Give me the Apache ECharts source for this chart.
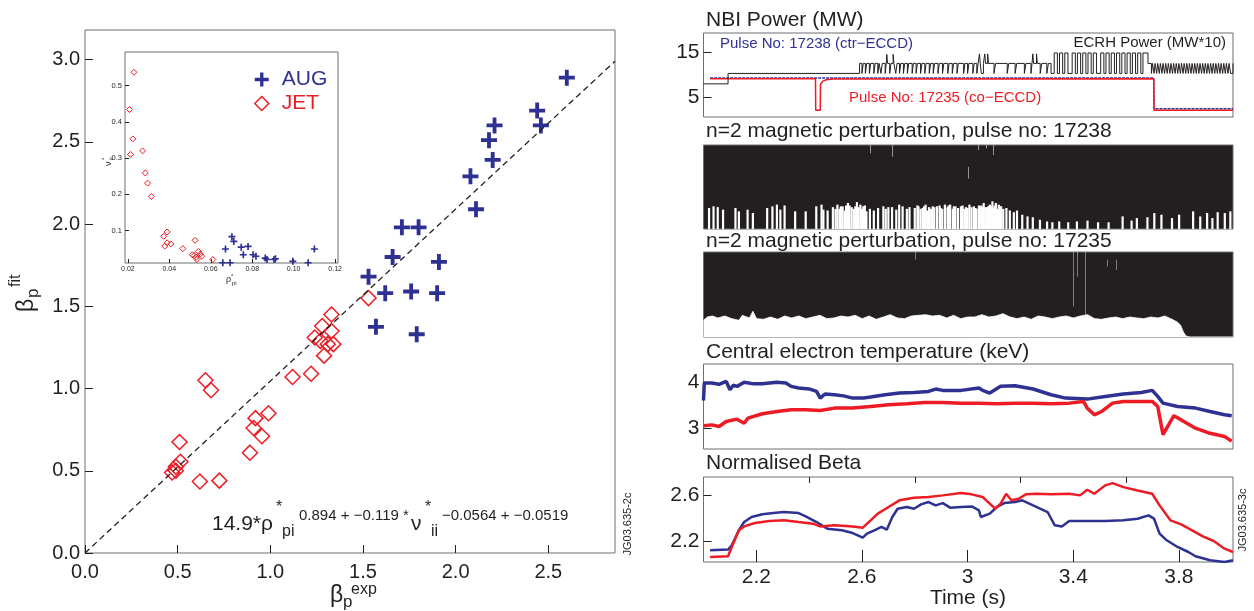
<!DOCTYPE html>
<html>
<head>
<meta charset="utf-8">
<script src="https://cdn.jsdelivr.net/npm/echarts@6/dist/echarts.min.js"></script>
<style>html,body{margin:0;padding:0;background:#fff}#chart{width:1254px;height:611px}</style>
</head>
<body>
<div id="chart"></div>
<script>
var FONT = '"Liberation Sans", Arial, sans-serif';
var BLUE = '#2e3192', RED = '#ed1c24', INK = '#231f20', FRAME = '#6d6e71';
var PLUS = 'path://M3.8,0h2.4v3.8h3.8v2.4h-3.8v3.8h-2.4v-3.8h-3.8v-2.4h3.8z';

// ---- left: fitted vs experimental beta_p ----
var augPoints = [[2.60,2.89],[2.44,2.69],[2.46,2.60],[2.21,2.60],[2.18,2.51],[2.20,2.39],[2.08,2.29],[2.11,2.09],
  [1.71,1.98],[1.80,1.98],[1.66,1.80],[1.91,1.77],[1.53,1.68],[1.62,1.58],[1.76,1.59],[1.90,1.58],[1.57,1.375],[1.79,1.33]];
var jetPoints = [[1.53,1.55],[1.33,1.45],[1.28,1.38],[1.33,1.35],[1.24,1.31],[1.27,1.29],[1.31,1.27],[1.34,1.27],[1.29,1.20],
  [1.12,1.07],[1.22,1.09],[0.65,1.05],[0.68,0.99],[0.99,0.85],[0.92,0.82],[0.91,0.76],[0.955,0.71],[0.89,0.61],
  [0.51,0.675],[0.515,0.555],[0.49,0.525],[0.47,0.49],[0.49,0.50],[0.62,0.435],[0.725,0.44]];
var fitLine = [[0, 0], [2.86, 2.99]];
var mainTicks = [0, 0.5, 1, 1.5, 2, 2.5, 3];

// inset: nu*_ii vs rho*_pi
var insetJet = [[0.0229,0.537],[0.0208,0.434],[0.0224,0.353],[0.0213,0.310],[0.0271,0.320],[0.0284,0.259],[0.0295,0.231],
  [0.0313,0.194],[0.0389,0.096],[0.0373,0.084],[0.0378,0.057],[0.0389,0.066],[0.0407,0.063],[0.0465,0.050],[0.0524,0.073],
  [0.0511,0.033],[0.0530,0.026],[0.0540,0.042],[0.0550,0.035],[0.0520,0.031],[0.0533,0.020],[0.0556,0.029],[0.0610,0.020]];
var insetAug = [[0.0702,0.083],[0.0711,0.070],[0.0671,0.049],[0.0747,0.054],[0.0780,0.056],[0.0757,0.033],[0.0804,0.033],
  [0.0818,0.029],[0.0863,0.024],[0.0871,0.020],[0.0905,0.020],[0.0912,0.022],[0.0996,0.015],[0.1070,0.011],[0.1100,0.049],
  [0.0658,0.011],[0.0693,0.011]];
var insetXTicks = [0.02, 0.04, 0.06, 0.08, 0.10, 0.12];
var insetYTicks = [0.1, 0.2, 0.3, 0.4, 0.5];

// ---- right: time traces ----
var timeTicks = [2.2, 2.6, 3, 3.4, 3.8];
var timeMinorTicks = [2.4, 2.8, 3.2, 3.6];

var nbi17238 = [[2.025,9.3],[3.705,9.3],[3.706,2.5],[4.005,2.5]];
var nbi17235 = [[2.025,9.1],[2.424,9.1],[2.425,2.2],[2.442,2.2],[2.443,7.9],[2.452,8.6],[2.465,8.9],[2.49,9.05],
  [3.705,9.1],[3.706,2.2],[4.005,2.2]];
var ecrhPower = [[2.000,8.0],[2.093,10.3],[2.591,12.5],
  [2.600,10.3],[2.605,12.5],[2.613,10.3],[2.618,12.5],[2.628,10.3],[2.633,12.5],[2.645,10.3],[2.650,12.5],
  [2.660,10.3],[2.665,12.5],[2.672,10.3],[2.677,12.5],[2.688,10.3],[2.692,12.5],[2.694,14.5],[2.697,12.5],
  [2.705,10.3],[2.710,12.5],[2.718,14.5],[2.721,12.5],[2.728,10.3],[2.733,12.5],[2.742,10.3],[2.747,12.5],
  [2.757,10.3],[2.762,12.5],[2.772,10.3],[2.777,12.5],[2.790,10.3],[2.795,12.5],[2.805,10.3],[2.810,12.5],
  [2.822,10.3],[2.827,12.5],[2.838,10.3],[2.843,12.5],[2.855,10.3],[2.860,12.5],[2.870,10.3],[2.875,12.5],
  [2.888,10.3],[2.893,12.5],[2.905,10.3],[2.910,12.5],[2.925,10.3],[2.930,12.5],[2.942,10.3],[2.947,12.5],
  [2.960,10.3],[2.965,12.5],[2.985,10.3],[2.990,12.5],[3.000,10.3],[3.005,12.5],[3.020,10.3],[3.025,12.5],
  [3.035,10.3],[3.040,12.5],[3.045,14.6],[3.048,12.5],[3.052,10.3],[3.060,12.5],[3.065,14.6],[3.068,12.5],
  [3.076,14.6],[3.079,12.5],[3.100,10.3],[3.106,12.5],[3.150,10.3],[3.156,12.5],[3.180,10.3],[3.186,12.5],
  [3.215,10.3],[3.221,12.5],[3.240,10.3],[3.244,12.5],[3.247,14.6],[3.250,12.5],[3.261,14.6],[3.264,12.5],
  [3.275,10.3],[3.281,12.5],[3.300,10.3],[3.306,12.5],[3.316,10.3],
  [3.328,14.8],[3.340,10.3],[3.348,14.8],[3.360,10.3],[3.368,14.8],[3.380,10.3],[3.396,14.8],[3.408,10.3],
  [3.416,14.8],[3.428,10.3],[3.436,14.8],[3.448,10.3],[3.456,14.8],[3.468,10.3],[3.476,14.8],[3.488,10.3],
  [3.504,14.8],[3.516,10.3],[3.524,14.8],[3.536,10.3],[3.544,14.8],[3.556,10.3],[3.564,14.8],[3.576,10.3],
  [3.584,14.8],[3.596,10.3],[3.604,14.8],[3.616,10.3],[3.624,14.8],[3.636,10.3],[3.644,14.8],[3.656,10.3],
  [3.664,14.8],[3.683,12.5],
  [3.696,10.3],[3.700,12.5],[3.706,10.3],[3.710,12.5],[3.716,10.3],[3.720,12.5],[3.726,10.3],[3.730,12.5],
  [3.736,10.3],[3.740,12.5],[3.746,10.3],[3.750,12.5],[3.756,10.3],[3.760,12.5],[3.766,10.3],[3.770,12.5],
  [3.776,10.3],[3.780,12.5],[3.786,10.3],[3.790,12.5],[3.796,10.3],[3.800,12.5],[3.806,10.3],[3.810,12.5],
  [3.816,10.3],[3.820,12.5],[3.826,10.3],[3.830,12.5],[3.836,10.3],[3.840,12.5],[3.846,10.3],[3.850,12.5],
  [3.856,10.3],[3.860,12.5],[3.866,10.3],[3.870,12.5],[3.876,10.3],[3.880,12.5],[3.886,10.3],[3.890,12.5],
  [3.896,10.3],[3.900,12.5],[3.906,10.3],[3.910,12.5],[3.916,10.3],[3.920,12.5],[3.926,10.3],[3.930,12.5],
  [3.936,10.3],[3.940,12.5],[3.946,10.3],[3.950,12.5],[3.956,10.3],[3.960,12.5],[3.966,10.3],[3.970,12.5],
  [3.976,10.3],[3.980,12.5],[3.986,10.3],[3.990,12.5],[3.996,10.3],[4.005,12.5]];

// n=2 perturbation, 17238: white gaps rising from the bottom of the black band (time, fraction of panel)
var mag17238Gaps = [[2.021,0.25],[2.038,0.27],[2.054,0.26],[2.074,0.23],[2.121,0.25],[2.134,0.21],[2.167,0.23],[2.187,0.19],
  [2.241,0.25],[2.261,0.27],[2.278,0.29],[2.291,0.23],[2.307,0.28],[2.347,0.21],[2.387,0.21],[2.427,0.27],[2.447,0.29],
  [2.454,0.23],[2.470,0.22],[2.490,0.26],[2.500,0.24],[2.507,0.29],[2.515,0.24],[2.520,0.27],[2.527,0.27],[2.535,0.22],
  [2.540,0.28],[2.547,0.31],[2.553,0.28],[2.561,0.26],[2.569,0.24],[2.575,0.27],[2.581,0.32],[2.587,0.26],[2.594,0.29],
  [2.600,0.24],[2.605,0.27],[2.611,0.28],[2.617,0.21],[2.630,0.24],[2.645,0.22],[2.661,0.25],[2.681,0.27],[2.690,0.24],
  [2.700,0.26],[2.714,0.26],[2.730,0.23],[2.741,0.29],[2.754,0.27],[2.770,0.24],[2.780,0.26],[2.800,0.25],[2.810,0.28],
  [2.814,0.27],[2.822,0.24],[2.830,0.25],[2.835,0.27],[2.841,0.29],[2.847,0.22],[2.854,0.26],[2.862,0.24],[2.868,0.27],
  [2.874,0.26],[2.884,0.27],[2.894,0.28],[2.898,0.25],[2.904,0.24],[2.914,0.29],[2.924,0.26],[2.928,0.28],[2.934,0.29],
  [2.944,0.24],[2.948,0.27],[2.954,0.27],[2.964,0.25],[2.975,0.27],[2.981,0.28],[2.988,0.24],[2.994,0.26],[3.000,0.25],
  [3.007,0.29],[3.015,0.26],[3.024,0.27],[3.030,0.25],[3.034,0.24],[3.043,0.28],[3.046,0.27],[3.052,0.28],[3.058,0.26],
  [3.061,0.31],[3.067,0.26],[3.074,0.26],[3.078,0.27],[3.084,0.29],[3.090,0.27],[3.094,0.33],[3.100,0.26],[3.104,0.28],
  [3.107,0.31],[3.112,0.24],[3.118,0.29],[3.122,0.27],[3.127,0.27],[3.135,0.24],[3.147,0.25],[3.160,0.22],[3.175,0.20],
  [3.187,0.22],[3.207,0.17],[3.227,0.15],[3.247,0.14],[3.274,0.11],[3.301,0.09],[3.321,0.08],[3.347,0.09],[3.381,0.08],
  [3.414,0.09],[3.454,0.10],[3.494,0.08],[3.534,0.08],[3.587,0.15],[3.621,0.10],[3.641,0.13],[3.681,0.14],[3.707,0.19],
  [3.734,0.17],[3.774,0.13],[3.801,0.17],[3.854,0.21],[3.881,0.15],[3.907,0.19],[3.927,0.13],[3.947,0.20],[3.974,0.19],
  [3.995,0.21]];
var mag17238Streaks = [[2.632,1.0,0.90],[2.714,1.0,0.86],[3.004,0.74,0.60],[3.042,1.0,0.94],[3.072,1.0,0.96],[3.097,1.0,0.88]];

// n=2 perturbation, 17235: top of the white region under the black band
var mag17235Floor = [[2.000,0.196],[2.014,0.235],[2.034,0.247],[2.054,0.224],[2.081,0.247],[2.107,0.216],[2.134,0.196],
  [2.147,0.255],[2.174,0.224],[2.187,0.302],[2.201,0.216],[2.227,0.208],[2.254,0.235],[2.281,0.208],[2.307,0.247],
  [2.334,0.224],[2.361,0.247],[2.387,0.216],[2.414,0.235],[2.441,0.255],[2.467,0.216],[2.494,0.224],[2.521,0.247],
  [2.547,0.235],[2.574,0.255],[2.601,0.216],[2.627,0.247],[2.654,0.208],[2.681,0.235],[2.707,0.263],[2.734,0.224],
  [2.761,0.216],[2.787,0.247],[2.814,0.255],[2.841,0.263],[2.867,0.247],[2.894,0.255],[2.921,0.224],[2.947,0.255],
  [2.974,0.216],[3.001,0.235],[3.027,0.235],[3.054,0.263],[3.081,0.235],[3.107,0.247],[3.134,0.275],[3.161,0.235],
  [3.187,0.216],[3.214,0.235],[3.241,0.208],[3.267,0.247],[3.294,0.235],[3.321,0.216],[3.347,0.235],[3.374,0.247],
  [3.401,0.224],[3.427,0.247],[3.454,0.263],[3.481,0.216],[3.507,0.208],[3.534,0.224],[3.561,0.235],[3.587,0.216],
  [3.614,0.235],[3.641,0.224],[3.667,0.216],[3.694,0.235],[3.721,0.224],[3.747,0.247],[3.774,0.208],[3.794,0.176],
  [3.807,0.137],[3.817,0.059],[3.827,0.012],[3.841,0],[4.005,0]];
var mag17235Spikes = [2.011,2.147,2.171,2.265,2.387,2.547,2.651,2.734,2.821,2.841,2.921,3.001,3.081,3.187,3.267,
  3.301,3.347,3.374,3.441,3.461,3.554,3.681,3.747,3.754];
var mag17235Streaks = [[2.80,1.0,0.91],[3.40,1.0,0.36],[3.414,1.0,0.71],[3.447,1.0,0.04],[3.53,0.91,0.83],[3.564,0.91,0.79]];

var te17238 = [[2.000,3.60],[2.003,3.98],[2.031,3.978],[2.059,3.95],[2.086,4.014],[2.100,3.833],[2.113,3.93],[2.127,3.906],
  [2.154,3.993],[2.190,3.96],[2.223,3.964],[2.278,3.993],[2.312,3.98],[2.332,3.906],[2.360,3.870],[2.400,3.85],[2.428,3.797],
  [2.442,3.652],[2.460,3.74],[2.496,3.725],[2.530,3.70],[2.565,3.652],[2.606,3.652],[2.633,3.674],[2.688,3.725],[2.742,3.761],
  [2.797,3.775],[2.852,3.797],[2.879,3.848],[2.906,3.819],[2.975,3.819],[3.043,3.870],[3.057,3.819],[3.084,3.761],[3.125,3.906],
  [3.180,3.920],[3.248,3.848],[3.316,3.725],[3.371,3.652],[3.453,3.630],[3.521,3.688],[3.590,3.739],[3.658,3.775],[3.699,3.819],
  [3.720,3.688],[3.740,3.543],[3.795,3.471],[3.863,3.435],[3.918,3.362],[3.973,3.290],[4.000,3.268]];
var te17235 = [[2.000,3.051],[2.031,3.072],[2.059,3.036],[2.086,3.145],[2.127,3.196],[2.154,3.109],[2.168,3.217],[2.223,3.312],
  [2.278,3.362],[2.332,3.399],[2.387,3.399],[2.442,3.384],[2.496,3.435],[2.565,3.435],[2.633,3.471],[2.701,3.507],[2.770,3.529],
  [2.838,3.558],[2.906,3.558],[2.975,3.543],[3.043,3.543],[3.111,3.529],[3.180,3.543],[3.248,3.543],[3.316,3.529],[3.385,3.543],
  [3.439,3.580],[3.453,3.435],[3.480,3.290],[3.508,3.362],[3.549,3.543],[3.590,3.580],[3.658,3.580],[3.699,3.580],[3.720,3.471],
  [3.740,2.86],[3.754,3.0],[3.781,3.27],[3.809,3.18],[3.863,3.0],[3.918,2.89],[3.973,2.82],[4.000,2.72]];

var beta17238 = [[2.025,2.122],[2.093,2.128],[2.107,2.165],[2.134,2.296],[2.154,2.368],[2.182,2.412],[2.223,2.435],[2.264,2.446],
  [2.305,2.455],[2.360,2.446],[2.387,2.417],[2.428,2.368],[2.469,2.310],[2.524,2.296],[2.565,2.272],[2.603,2.232],[2.619,2.267],
  [2.647,2.296],[2.674,2.325],[2.694,2.301],[2.715,2.412],[2.735,2.484],[2.770,2.499],[2.797,2.484],[2.824,2.522],[2.852,2.542],
  [2.879,2.513],[2.906,2.533],[2.934,2.493],[2.975,2.499],[3.016,2.504],[3.043,2.470],[3.050,2.412],[3.084,2.441],[3.111,2.499],
  [3.139,2.533],[3.180,2.542],[3.207,2.557],[3.248,2.513],[3.303,2.455],[3.330,2.339],[3.357,2.330],[3.385,2.377],[3.453,2.377],
  [3.521,2.377],[3.590,2.383],[3.644,2.397],[3.685,2.426],[3.706,2.397],[3.727,2.267],[3.754,2.209],[3.795,2.151],[3.836,2.107],
  [3.863,2.070],[3.918,2.035],[3.973,2.020],[4.005,2.035]];
var beta17235 = [[2.025,2.064],[2.093,2.070],[2.107,2.151],[2.134,2.296],[2.154,2.330],[2.195,2.359],[2.250,2.377],[2.305,2.383],
  [2.360,2.368],[2.414,2.354],[2.442,2.330],[2.496,2.339],[2.565,2.330],[2.603,2.319],[2.633,2.383],[2.660,2.441],[2.701,2.499],
  [2.742,2.557],[2.797,2.580],[2.852,2.586],[2.906,2.600],[2.975,2.620],[3.016,2.609],[3.057,2.586],[3.084,2.528],[3.105,2.484],
  [3.125,2.528],[3.146,2.614],[3.166,2.557],[3.193,2.571],[3.221,2.609],[3.262,2.614],[3.316,2.609],[3.385,2.614],[3.426,2.600],
  [3.453,2.649],[3.480,2.614],[3.521,2.687],[3.549,2.707],[3.590,2.672],[3.644,2.643],[3.699,2.614],[3.727,2.513],[3.768,2.383],
  [3.809,2.348],[3.850,2.296],[3.891,2.243],[3.932,2.203],[3.973,2.136],[4.005,2.107]];

var chart = echarts.init(document.getElementById('chart'));

function axis(gridIndex, min, max) {
  return {
    type: 'value', gridIndex: gridIndex, min: min, max: max,
    axisLine: { show: false }, splitLine: { show: false },
    axisTick: { show: false }, axisLabel: { show: false }
  };
}
function ticked(ax, values, len, fmt, size, margin) {
  ax.axisTick = { show: true, inside: true, length: len, customValues: values, lineStyle: { color: INK, width: 1 } };
  ax.axisLabel = { show: !!fmt, customValues: values, formatter: fmt, color: INK, fontFamily: FONT,
    fontSize: size, margin: margin };
  return ax;
}
function fixed(n) { return function (v) { return v.toFixed(n); }; }
function plain(v) { return String(v); }
function txt(text, x, y, size, color, opts) {
  opts = opts || {};
  return {
    type: 'text', x: x, y: y, rotation: opts.rot || 0, silent: true,
    style: { text: text, fill: color || INK, font: size + 'px ' + FONT,
      textAlign: opts.align || 'left', align: opts.align || 'left',
      textVerticalAlign: 'middle', verticalAlign: 'middle' }
  };
}
function streakLines(list) {
  return list.map(function (s) { return [{ coord: [s[0], s[1]] }, { coord: [s[0], s[2]] }]; });
}

var RX = 703.5, RW = 529.5, T0 = 2.0, T1 = 4.005;
var panelBox = { show: true, borderColor: FRAME, borderWidth: 1 };

var grids = [
  Object.assign({ left: 85, top: 30, width: 530, height: 523, backgroundColor: '#fff' }, panelBox),
  Object.assign({ left: 125, top: 52, width: 213, height: 211, backgroundColor: '#fff' }, panelBox),
  Object.assign({ left: RX, width: RW, top: 33, height: 84 }, panelBox),
  Object.assign({ left: RX, width: RW, top: 145, height: 84, backgroundColor: INK }, panelBox),
  Object.assign({ left: RX, width: RW, top: 252, height: 85, backgroundColor: INK }, panelBox),
  Object.assign({ left: RX, width: RW, top: 364, height: 85 }, panelBox),
  Object.assign({ left: RX, width: RW, top: 477, height: 85 }, panelBox)
];

var xAxes = [
  ticked(axis(0, 0, 2.86), mainTicks.slice(0, 6), 8, fixed(1), 20, 9),
  ticked(axis(1, 0.0186, 0.1214), insetXTicks, 4, fixed(2), 7, 3),
  axis(2, T0, T1), axis(3, T0, T1), axis(4, T0, T1), axis(5, T0, T1),
  ticked(axis(6, T0, T1), timeTicks, 12, plain, 21, 5),
  ticked(axis(6, T0, T1), timeMinorTicks, 6, null, 12, 5)
];
var yAxes = [
  ticked(axis(0, 0, 3.18), mainTicks, 8, fixed(1), 20, 5),
  ticked(axis(1, 0.0103, 0.593), insetYTicks, 4, fixed(1), 7.5, 3),
  ticked(axis(2, 0.7, 19.2), [5, 15], 8, plain, 21, 4),
  axis(3, 0, 1), axis(4, 0, 1),
  ticked(axis(5, 2.55, 4.39), [3, 4], 8, plain, 21, 4),
  ticked(axis(6, 2.02, 2.76), [2.2, 2.6], 8, fixed(1), 21, 4)
];

function trace(name, data, xi, color, width, extra) {
  return Object.assign({ name: name, type: 'line', data: data, xAxisIndex: xi, yAxisIndex: xi > 6 ? 6 : xi,
    symbol: 'none', lineStyle: { color: color, width: width }, itemStyle: { color: color }, silent: true }, extra || {});
}
var hollowRed = function (w) {
  return { color: 'rgba(255,255,255,0)', borderColor: RED, borderWidth: w, opacity: 1 };
};

var series = [
  { name: 'AUG', type: 'scatter', data: augPoints, symbol: PLUS, symbolSize: 16,
    itemStyle: { color: BLUE, opacity: 1 } },
  { name: 'JET', type: 'scatter', data: jetPoints, symbol: 'diamond', symbolSize: 15, itemStyle: hollowRed(1.5) },
  { type: 'line', data: fitLine, symbol: 'none', lineStyle: { color: INK, width: 1.3, type: [6, 4] } },
  { name: 'AUG', type: 'scatter', data: insetAug, xAxisIndex: 1, yAxisIndex: 1, symbol: PLUS, symbolSize: 7,
    itemStyle: { color: BLUE, opacity: 1 } },
  { name: 'JET', type: 'scatter', data: insetJet, xAxisIndex: 1, yAxisIndex: 1, symbol: 'diamond', symbolSize: 6,
    itemStyle: hollowRed(1) },

  trace('NBI 17238', nbi17238, 2, BLUE, 1.5, { lineStyle: { color: BLUE, width: 1.5, type: [3, 1] } }),
  trace('NBI 17235', nbi17235, 2, RED, 1.5),
  trace('ECRH', ecrhPower, 2, INK, 1, { step: 'end' }),

  { type: 'bar', xAxisIndex: 3, yAxisIndex: 3, data: mag17238Gaps, barWidth: 2.2, silent: true,
    itemStyle: { color: '#fff' } },
  trace('gaps 17238', [], 3, '#fff', 1, { markLine: { silent: true, symbol: 'none', label: { show: false },
    lineStyle: { color: 'rgba(255,255,255,0.75)', width: 0.7, type: 'solid' }, data: streakLines(mag17238Streaks) } }),

  trace('floor 17235', mag17235Floor, 4, '#fff', 0.8, { areaStyle: { color: '#fff', opacity: 1 } }),
  { type: 'bar', xAxisIndex: 4, yAxisIndex: 4, barWidth: 1.5, silent: true, itemStyle: { color: INK },
    data: mag17235Spikes.map(function (t) { return [t, 0.33]; }) },
  trace('gaps 17235', [], 4, '#fff', 1, { markLine: { silent: true, symbol: 'none', label: { show: false },
    lineStyle: { color: 'rgba(255,255,255,0.6)', width: 0.7, type: 'solid' }, data: streakLines(mag17235Streaks) } }),

  trace('Te 17238', te17238, 5, BLUE, 3.5),
  trace('Te 17235', te17235, 5, RED, 3.5),
  trace('beta 17238', beta17238, 6, BLUE, 2.5),
  trace('beta 17235', beta17235, 6, RED, 2.5)
];

var graphics = [
  // formula
  txt('14.9*\u03c1', 212, 524, 21), txt('*', 276, 508, 16), txt('pi', 282, 532, 16),
  txt('0.894 + \u22120.119 *', 299, 516, 15),
  txt('\u03bd', 411, 524, 21), txt('*', 425, 508, 16), txt('ii', 431, 532, 16),
  txt('\u22120.0564 + \u22120.0519', 442, 516, 15),
  // axis names of the left plot
  txt('\u03b2', 330, 596, 23), txt('p', 343, 602, 17), txt('exp', 351, 590, 16),
  txt('\u03b2', 27, 312, 23, INK, { rot: Math.PI / 2 }), txt('p', 33, 298, 17, INK, { rot: Math.PI / 2 }),
  txt('fit', 16, 287, 16, INK, { rot: Math.PI / 2 }),
  txt('\u03bd', 109, 166, 9, INK, { rot: Math.PI / 2 }), txt('*', 104, 160, 6, INK, { rot: Math.PI / 2 }),
  txt('ii', 111, 160, 6, INK, { rot: Math.PI / 2 }),
  txt('\u03c1', 226, 280, 9), txt('*', 231, 276, 6), txt('pi', 232, 283, 6),
  txt('JG03.635-2c', 628, 524, 11, INK, { rot: Math.PI / 2, align: 'center' }),
  // right panel titles
  txt('NBI Power (MW)', 706, 20, 21),
  txt('n=2 magnetic perturbation, pulse no: 17238', 706, 131.5, 21),
  txt('n=2 magnetic perturbation, pulse no: 17235', 706, 241.5, 21),
  txt('Central electron temperature (keV)', 706, 352.5, 21),
  txt('Normalised Beta', 706, 463.5, 21),
  txt('Pulse No: 17238 (ctr\u2212ECCD)', 720, 43.5, 15, BLUE),
  txt('ECRH Power (MW*10)', 1226, 43, 15, INK, { align: 'right' }),
  txt('Pulse No: 17235 (co\u2212ECCD)', 849, 98, 15, RED),
  txt('Time (s)', 968, 598, 21, INK, { align: 'center' }),
  txt('JG03.635-3c', 1243, 520, 11, INK, { rot: Math.PI / 2, align: 'center' })
];

chart.setOption({
  animation: false,
  backgroundColor: '#fff',
  grid: grids,
  xAxis: xAxes,
  yAxis: yAxes,
  legend: {
    left: 249, top: 64, orient: 'vertical', itemWidth: 14, itemHeight: 14, itemGap: 3, selectedMode: false,
    textStyle: { fontFamily: FONT, fontSize: 21, padding: [0, 0, 0, 8] },
    data: [
      { name: 'AUG', icon: PLUS, itemStyle: { color: BLUE, opacity: 1 }, textStyle: { color: BLUE } },
      { name: 'JET', icon: 'diamond', itemStyle: hollowRed(1.5), textStyle: { color: RED } }
    ]
  },
  series: series,
  graphic: graphics
});
</script>
</body>
</html>
